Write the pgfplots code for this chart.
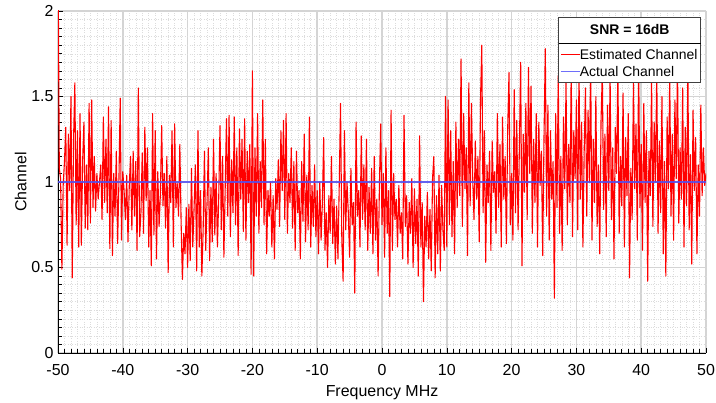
\documentclass[border=0pt]{standalone}
\usepackage{pgfplots}
\pgfplotsset{compat=1.18}
\usepackage{fontspec}
\setmainfont{Liberation Sans}
\definecolor{actblue}{RGB}{80,80,245}
\definecolor{legblue}{RGB}{110,110,250}
\definecolor{majgrid}{RGB}{212,212,212}
\definecolor{mingrid}{RGB}{220,220,220}
\begin{document}
\begin{tikzpicture}
\useasboundingbox (-58bp,-50bp) rectangle (658bp,353bp);
\begin{axis}[
  at={(0,0)}, anchor=south west,
  scale only axis, width=648bp, height=342bp,
  xmin=-50, xmax=50, ymin=0, ymax=2,
  axis x line*=bottom, axis y line*=left,
  axis line style={black, line width=0.8pt},
  xtick={-50,-40,...,50}, ytick={0,0.5,1,1.5,2},
  minor x tick num=9, minor y tick num=9,
  tick align=inside,
  major tick length=5bp, minor tick length=4bp,
  tick style={black, line width=0.6pt},
  grid=both,
  major grid style={majgrid, line width=1.5pt},
  minor grid style={mingrid, dotted, line width=0.5pt},
  /pgf/number format/assume math mode=true,
  ticklabel style={font=\fontsize{16}{19}\selectfont},
  yticklabel style={/pgf/number format/fixed, xshift=-1bp},
  xticklabel style={yshift=-8bp},
  xlabel={Frequency MHz}, ylabel={Channel},
  label style={font=\fontsize{16}{19}\selectfont},
  xlabel style={yshift=-3bp},
  ylabel style={yshift=-2bp},
]
\addplot[red, line width=1.1pt, line join=round] coordinates {
(-50.0,2.40) (-49.8,1.08) (-49.6,1.02) (-49.4,0.49) (-49.2,0.98) (-49.0,1.12) (-48.8,1.32) (-48.6,0.63) (-48.4,1.28) (-48.2,0.95)
(-48.0,1.50) (-47.8,0.44) (-47.6,1.25) (-47.4,1.58) (-47.2,0.75) (-47.0,1.30) (-46.8,0.62) (-46.6,1.40) (-46.4,0.63) (-46.2,1.12)
(-46.0,1.35) (-45.8,0.73) (-45.6,1.10) (-45.4,0.72) (-45.2,1.46) (-45.0,0.76) (-44.8,1.48) (-44.6,0.85) (-44.4,1.15) (-44.2,0.83)
(-44.0,1.05) (-43.8,0.90) (-43.6,1.00) (-43.4,1.10) (-43.2,0.78) (-43.0,1.38) (-42.8,0.88) (-42.6,1.25) (-42.4,0.82) (-42.2,1.44)
(-42.0,0.61) (-41.8,1.36) (-41.6,0.57) (-41.4,1.05) (-41.2,0.80) (-41.0,1.18) (-40.8,0.64) (-40.6,1.00) (-40.4,1.49) (-40.2,0.66)
(-40.0,1.06) (-39.8,0.95) (-39.6,0.78) (-39.4,1.04) (-39.2,0.65) (-39.0,0.98) (-38.8,1.15) (-38.6,0.72) (-38.4,1.18) (-38.2,0.80)
(-38.0,1.12) (-37.8,0.60) (-37.6,1.55) (-37.4,0.68) (-37.2,0.82) (-37.0,1.17) (-36.8,0.70) (-36.6,1.32) (-36.4,0.89) (-36.2,1.20)
(-36.0,0.62) (-35.8,0.95) (-35.6,0.51) (-35.4,1.40) (-35.2,0.69) (-35.0,1.30) (-34.8,0.55) (-34.6,1.06) (-34.4,0.74) (-34.2,0.93)
(-34.0,1.33) (-33.8,0.86) (-33.6,1.05) (-33.4,0.73) (-33.2,1.15) (-33.0,0.47) (-32.8,1.04) (-32.6,0.88) (-32.4,1.30) (-32.2,0.62)
(-32.0,1.34) (-31.8,0.85) (-31.6,0.99) (-31.4,0.80) (-31.2,1.22) (-31.0,0.76) (-30.8,0.43) (-30.6,0.70) (-30.4,0.58) (-30.2,0.85)
(-30.0,0.50) (-29.8,0.87) (-29.6,0.54) (-29.4,1.08) (-29.2,0.62) (-29.0,0.85) (-28.8,1.10) (-28.6,0.48) (-28.4,1.30) (-28.2,0.62)
(-28.0,0.95) (-27.8,0.45) (-27.6,0.72) (-27.4,1.18) (-27.2,0.60) (-27.0,0.88) (-26.8,1.20) (-26.6,0.54) (-26.4,0.97) (-26.2,0.65)
(-26.0,1.25) (-25.8,0.69) (-25.6,1.05) (-25.4,0.62) (-25.2,0.90) (-25.0,1.33) (-24.8,0.72) (-24.6,1.15) (-24.4,0.56) (-24.2,0.96)
(-24.0,1.37) (-23.8,0.80) (-23.6,1.39) (-23.4,0.68) (-23.2,1.13) (-23.0,0.82) (-22.8,1.38) (-22.6,0.75) (-22.4,1.20) (-22.2,0.57)
(-22.0,1.31) (-21.8,0.90) (-21.6,1.25) (-21.4,0.71) (-21.2,1.37) (-21.0,0.66) (-20.8,1.18) (-20.6,0.88) (-20.4,1.22) (-20.2,0.46)
(-20.0,1.65) (-19.8,0.45) (-19.6,1.20) (-19.4,0.80) (-19.2,1.40) (-19.0,0.70) (-18.8,1.12) (-18.6,0.85) (-18.4,1.48) (-18.2,0.75)
(-18.0,1.25) (-17.8,0.58) (-17.6,0.95) (-17.4,0.80) (-17.2,1.00) (-17.0,0.62) (-16.8,0.92) (-16.6,0.55) (-16.4,1.02) (-16.2,0.84)
(-16.0,1.13) (-15.8,0.74) (-15.6,1.30) (-15.4,0.95) (-15.2,1.36) (-15.0,0.78) (-14.8,1.40) (-14.6,0.70) (-14.4,1.05) (-14.2,0.88)
(-14.0,1.20) (-13.8,0.73) (-13.6,1.12) (-13.4,0.60) (-13.2,1.18) (-13.0,0.82) (-12.8,0.95) (-12.6,0.55) (-12.4,1.12) (-12.2,0.77)
(-12.0,1.28) (-11.8,0.65) (-11.6,1.04) (-11.4,0.72) (-11.2,1.38) (-11.0,0.62) (-10.8,0.98) (-10.6,0.74) (-10.4,1.10) (-10.2,0.68)
(-10.0,0.95) (-9.8,0.58) (-9.6,1.00) (-9.4,0.66) (-9.2,0.88) (-9.0,1.26) (-8.8,0.60) (-8.6,0.82) (-8.4,0.50) (-8.2,0.92)
(-8.0,0.70) (-7.8,1.15) (-7.6,0.64) (-7.4,0.90) (-7.2,0.52) (-7.0,0.86) (-6.8,0.55) (-6.6,0.98) (-6.4,1.46) (-6.2,0.66)
(-6.0,0.42) (-5.8,1.30) (-5.6,0.72) (-5.4,1.00) (-5.2,0.82) (-5.0,0.56) (-4.8,1.08) (-4.6,0.75) (-4.4,0.88) (-4.2,0.35)
(-4.0,1.35) (-3.8,0.80) (-3.6,0.95) (-3.4,0.62) (-3.2,1.27) (-3.0,0.78) (-2.8,1.10) (-2.6,0.72) (-2.4,1.25) (-2.2,0.60)
(-2.0,0.97) (-1.8,0.70) (-1.6,1.08) (-1.4,0.58) (-1.2,1.15) (-1.0,0.66) (-0.8,0.90) (-0.6,0.45) (-0.4,0.98) (-0.2,1.34)
(0.0,0.75) (0.2,1.05) (0.4,0.56) (0.6,1.20) (0.8,0.70) (1.0,0.95) (1.2,0.33) (1.4,1.42) (1.6,0.60) (1.8,1.05)
(2.0,0.78) (2.2,0.90) (2.4,0.62) (2.6,0.98) (2.8,0.70) (3.0,0.82) (3.2,0.55) (3.4,1.39) (3.6,0.74) (3.8,0.92)
(4.0,0.52) (4.2,0.88) (4.4,0.70) (4.6,1.02) (4.8,0.50) (5.0,0.96) (5.2,0.64) (5.4,0.90) (5.6,0.45) (5.8,1.27)
(6.0,0.62) (6.2,0.88) (6.4,0.30) (6.6,0.80) (6.8,0.62) (7.0,0.94) (7.2,0.55) (7.4,0.84) (7.6,0.48) (7.8,1.02)
(8.0,1.15) (8.2,0.44) (8.4,0.92) (8.6,0.58) (8.8,1.04) (9.0,0.48) (9.2,0.98) (9.4,0.72) (9.6,0.60) (9.8,1.50)
(10.0,0.62) (10.2,1.48) (10.4,0.75) (10.6,1.30) (10.8,0.68) (11.0,1.12) (11.2,0.58) (11.4,1.35) (11.6,0.85) (11.8,1.25)
(12.0,0.92) (12.2,1.72) (12.4,0.74) (12.6,1.40) (12.8,0.96) (13.0,1.20) (13.2,0.57) (13.4,1.58) (13.6,0.86) (13.8,1.46)
(14.0,1.02) (14.2,0.78) (14.4,1.24) (14.6,0.90) (14.8,1.15) (15.0,0.65) (15.2,1.48) (15.4,1.80) (15.6,0.82) (15.8,1.30)
(16.0,0.53) (16.2,1.10) (16.4,0.88) (16.6,1.18) (16.8,0.60) (17.0,1.24) (17.2,0.94) (17.4,1.06) (17.6,0.70) (17.8,1.40)
(18.0,0.85) (18.2,1.22) (18.4,0.62) (18.6,1.38) (18.8,0.90) (19.0,1.15) (19.2,0.64) (19.4,1.32) (19.6,1.64) (19.8,0.75)
(20.0,1.05) (20.2,0.66) (20.4,1.54) (20.6,0.82) (20.8,1.36) (21.0,0.72) (21.2,1.20) (21.4,1.70) (21.6,0.51) (21.8,1.28)
(22.0,0.94) (22.2,1.46) (22.4,0.78) (22.6,1.67) (22.8,1.05) (23.0,1.56) (23.2,0.70) (23.4,1.25) (23.6,0.88) (23.8,1.40)
(24.0,0.62) (24.2,1.35) (24.4,0.98) (24.6,1.18) (24.8,0.57) (25.0,1.26) (25.2,1.78) (25.4,0.80) (25.6,1.45) (25.8,0.66)
(26.0,1.30) (26.2,0.90) (26.4,1.12) (26.6,0.32) (26.8,1.40) (27.0,0.85) (27.2,1.62) (27.4,0.70) (27.6,1.15) (27.8,0.60)
(28.0,1.38) (28.2,0.96) (28.4,1.58) (28.6,0.75) (28.8,1.22) (29.0,0.88) (29.2,1.66) (29.4,0.68) (29.6,1.30) (29.8,1.02)
(30.0,1.48) (30.2,0.72) (30.4,1.65) (30.6,0.90) (30.8,1.35) (31.0,0.62) (31.2,1.18) (31.4,1.55) (31.6,0.80) (31.8,1.42)
(32.0,1.00) (32.2,1.70) (32.4,0.66) (32.6,1.25) (32.8,0.88) (33.0,1.50) (33.2,0.74) (33.4,1.10) (33.6,0.58) (33.8,1.36)
(34.0,1.64) (34.2,0.84) (34.4,1.28) (34.6,0.68) (34.8,1.45) (35.0,0.95) (35.2,1.62) (35.4,0.78) (35.6,1.20) (35.8,0.55)
(36.0,1.32) (36.2,1.05) (36.4,1.68) (36.6,0.70) (36.8,1.15) (37.0,0.86) (37.2,1.52) (37.4,0.62) (37.6,1.26) (37.8,0.92)
(38.0,1.40) (38.2,0.44) (38.4,1.08) (38.6,0.78) (38.8,1.58) (39.0,0.96) (39.2,1.34) (39.4,0.66) (39.6,1.72) (39.8,0.85)
(40.0,1.22) (40.2,0.60) (40.4,1.46) (40.6,0.88) (40.8,1.30) (41.0,0.42) (41.2,1.18) (41.4,0.92) (41.6,1.60) (41.8,0.74)
(42.0,1.35) (42.2,1.00) (42.4,1.66) (42.6,0.70) (42.8,1.24) (43.0,0.82) (43.2,1.50) (43.4,0.58) (43.6,1.12) (43.8,0.45)
(44.0,1.38) (44.2,0.96) (44.4,1.62) (44.6,0.80) (44.8,1.28) (45.0,0.66) (45.2,1.48) (45.4,1.02) (45.6,1.70) (45.8,0.76)
(46.0,1.20) (46.2,0.90) (46.4,1.55) (46.6,0.62) (46.8,1.32) (47.0,0.86) (47.2,1.64) (47.4,0.72) (47.6,1.16) (47.8,0.52)
(48.0,1.42) (48.2,0.95) (48.4,1.26) (48.6,0.58) (48.8,1.10) (49.0,0.80) (49.2,1.45) (49.4,0.92) (49.6,1.20) (49.8,0.98)
(50.0,1.05)
};
\addplot[actblue, opacity=0.85, line width=1.8pt] coordinates {(-50,1) (50,1)};
\end{axis}
\node[draw=black!75, line width=0.8pt, fill=white, anchor=north east, inner sep=0pt,
      font=\fontsize{14}{17}\selectfont] at (643bp,336bp) {%
\setlength{\arrayrulewidth}{0.8pt}%
\begin{tabular}{@{\hspace{2bp}}l@{\hspace{3bp}}}
\multicolumn{1}{c}{\rule{0pt}{17bp}\textbf{SNR = 16dB}}\\[4bp]\hline
\rule{0pt}{15bp}\textcolor{red}{\rule[0.33em]{19bp}{0.9pt}}Estimated Channel\\
\textcolor{legblue}{\rule[0.33em]{19bp}{1.1pt}}Actual Channel\\[1bp]
\end{tabular}};
\end{tikzpicture}
\end{document}
